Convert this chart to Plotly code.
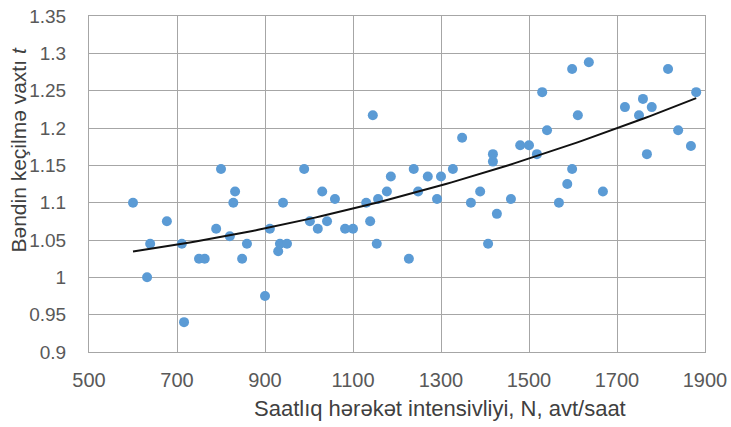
import numpy as np
import plotly.graph_objects as go

# Data
intensity = [600, 632, 639, 677, 711, 716, 750, 763, 789, 800, 820, 828, 832, 848, 859,
             900, 911, 930, 934, 941, 950, 989, 1002, 1020, 1030, 1041, 1059, 1082, 1100,
             1130, 1139, 1145, 1154, 1157, 1177, 1186, 1227, 1238, 1248, 1270, 1291, 1300,
             1327, 1348, 1368, 1389, 1407, 1418, 1418, 1427, 1459, 1480, 1500, 1518, 1530,
             1541, 1568, 1587, 1598, 1598, 1611, 1636, 1668, 1718, 1750, 1759, 1768, 1779,
             1816, 1839, 1868, 1880]
pass_time = [1.10, 1.00, 1.045, 1.075, 1.045, 0.94, 1.025, 1.025, 1.065, 1.145, 1.055, 1.10,
             1.115, 1.025, 1.045, 0.975, 1.065, 1.035, 1.045, 1.10, 1.045, 1.145, 1.075,
             1.065, 1.115, 1.075, 1.105, 1.065, 1.065, 1.10, 1.075, 1.217, 1.045, 1.105,
             1.115, 1.135, 1.025, 1.145, 1.115, 1.135, 1.105, 1.135, 1.145, 1.187, 1.10,
             1.115, 1.045, 1.155, 1.165, 1.085, 1.105, 1.177, 1.177, 1.165, 1.248, 1.197,
             1.10, 1.125, 1.145, 1.279, 1.217, 1.288, 1.115, 1.228, 1.217, 1.239, 1.165,
             1.228, 1.279, 1.197, 1.176, 1.248]

x_tick_vals = [500, 700, 900, 1100, 1300, 1500, 1700, 1900]
y_tick_vals = [0.9, 0.95, 1.0, 1.05, 1.1, 1.15, 1.2, 1.25, 1.3, 1.35]
y_tick_text = ["0.9", "0.95", "1", "1.05", "1.1", "1.15", "1.2", "1.25", "1.3", "1.35"]

x_title = "Saatlıq hərəkət intensivliyi, N, avt/saat"
y_title = "Bəndin keçilmə vaxtı <i>t</i>"

# Trend line fitted from the data (2nd-order polynomial)
coef = np.polyfit(intensity, pass_time, 2)
trend_x = np.linspace(min(intensity), max(intensity), 100)
trend_y = np.polyval(coef, trend_x)

FONT = "Liberation Sans"

fig = go.Figure()
fig.add_trace(go.Scatter(
    x=intensity, y=pass_time, mode="markers",
    marker=dict(color="#5B9BD5", size=10, line=dict(width=0)),
    showlegend=False, cliponaxis=False, hoverinfo="skip",
))
fig.add_trace(go.Scatter(
    x=trend_x, y=trend_y, mode="lines",
    line=dict(color="#111111", width=2),
    showlegend=False, hoverinfo="skip",
))

fig.update_layout(
    width=731, height=427,
    margin=dict(l=89, r=26, t=16, b=75, autoexpand=False),
    paper_bgcolor="white", plot_bgcolor="white",
    font=dict(family=FONT, color="#595959"),
    xaxis=dict(
        range=[500, 1900], tickvals=x_tick_vals,
        showgrid=True, gridcolor="#A6A6A6", gridwidth=1,
        zeroline=False, showline=True, linecolor="#A6A6A6", mirror=True,
        tickfont=dict(family=FONT, size=20, color="#595959"),
        ticks="", ticklabelstandoff=10,
        automargin=False,
    ),
    yaxis=dict(
        range=[0.9, 1.35], tickvals=y_tick_vals, ticktext=y_tick_text,
        showgrid=True, gridcolor="#A6A6A6", gridwidth=1,
        zeroline=False, showline=True, linecolor="#A6A6A6", mirror=True,
        tickfont=dict(family=FONT, size=19, color="#595959"),
        ticks="", ticklabelstandoff=18,
        automargin=False,
    ),
    annotations=[
        dict(text=y_title, textangle=-90, showarrow=False,
             xref="paper", yref="paper", x=-0.115, y=0.6,
             xanchor="center", yanchor="middle",
             font=dict(family=FONT, size=21, color="#404040")),
        dict(text=x_title, showarrow=False,
             xref="paper", yref="paper", x=0.57, y=-0.167,
             xanchor="center", yanchor="middle",
             font=dict(family=FONT, size=22, color="#404040")),
    ],
)

fig.write_html("out.html", config={"displayModeBar": False},
               post_script="document.body.style.margin='0';document.body.style.overflow='hidden';")
